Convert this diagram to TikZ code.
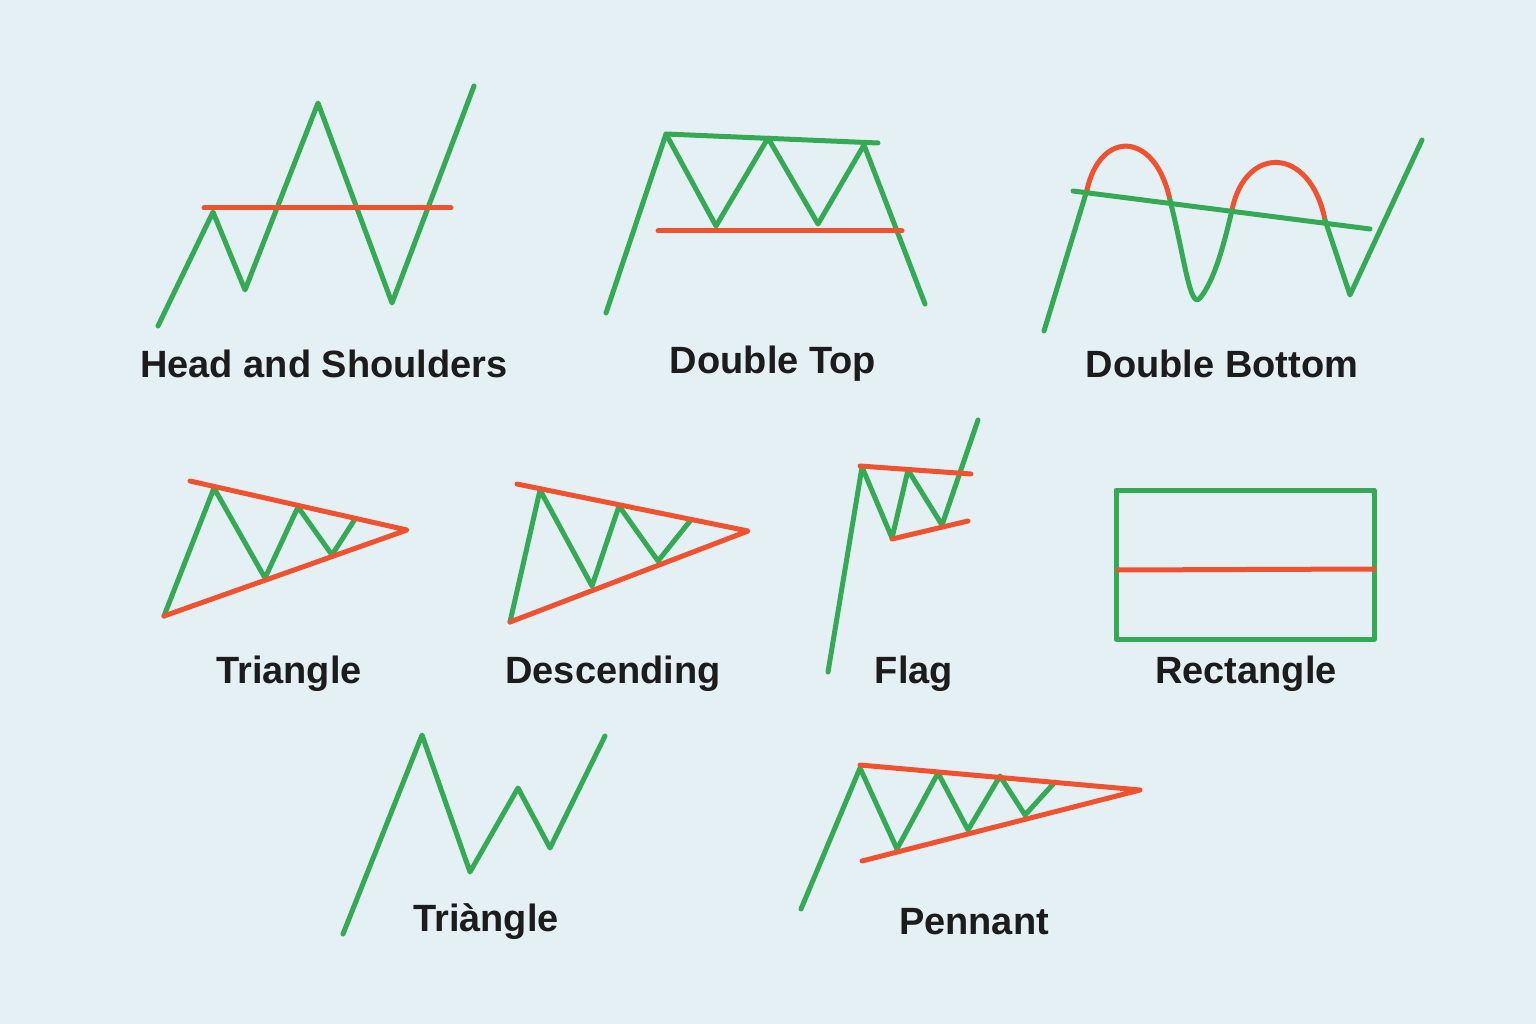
\documentclass[tikz,border=0pt]{standalone}
\usepackage{fontspec}
\setmainfont{Liberation Sans}
\definecolor{bgblue}{RGB}{229,240,245}
\definecolor{chartgreen}{RGB}{52,170,84}
\definecolor{chartred}{RGB}{240,82,48}
\definecolor{labelink}{RGB}{28,28,28}
\usetikzlibrary{positioning}
\tikzset{
  trend/.style={line width=5pt, line cap=round, line join=round, color=chartgreen},
  level/.style={line width=5pt, line cap=round, line join=round, color=chartred},
  caption/.style={font=\fontsize{38}{40}\selectfont\bfseries, text=labelink, inner sep=0pt}
}
\begin{document}
\begin{tikzpicture}[x=1pt,y=-1pt]
			\fill[bgblue] (0,0) rectangle (1536,1024);
			\useasboundingbox (0,0) rectangle (1536,1024);
			% Head and Shoulders
			\draw[trend] (158,326) -- (213,212) -- (245,290) -- (318,103) -- (392,303) -- (474,86);
			\draw[level] (204,208) -- (451,208);
			\node[caption] (hs) at (324,364) {Head and Shoulders};
			% Double Top
			\draw[trend] (606,313) -- (666,134) -- (716,226) -- (768,138) -- (818,224) -- (864,145) -- (925,304);
			\draw[trend] (666,134) -- (878,143);
			\draw[level] (658,231) -- (902,231);
			\node[caption] (dt) at (773,364) {Double Top};
			% Double Bottom
			\draw[trend] (1044,331) -- (1087,190);
			\draw[level] (1087,190) .. controls (1100,130) and (1155,130) .. (1170,200);
			\draw[trend] (1170,200) .. controls (1185,260) and (1190,310) .. (1200,298) .. controls (1215,280) and (1225,240) .. (1232,210);
			\draw[level] (1232,210) .. controls (1245,145) and (1310,145) .. (1325,220);
			\draw[trend] (1325,220) -- (1350,295) -- (1422,140);
			\draw[trend] (1073,191) -- (1370,229);
			\node[caption] (db) at (1222,364) {Double Bottom};
			% Triangle
			\draw[trend] (164,616) -- (214,488) -- (265,578) -- (298,507) -- (332,555) -- (355,519);
			\draw[level] (190,481) -- (407,530) -- (164,616);
			\node[caption] (tri) at (289,674) {Triangle};
			% Descending
			\draw[trend] (510,622) -- (540,490) -- (592,586) -- (619,506) -- (658,561) -- (690,521);
			\draw[level] (517,484) -- (748,531) -- (510,622);
			\node[caption] (desc) at (613,674) {Descending};
			% Flag
			\draw[trend] (828,672) -- (862,467) -- (892,538) -- (908,470) -- (942,525) -- (978,420);
			\draw[level] (860,466) -- (971,474);
			\draw[level] (892,539) -- (968,521);
			\node[caption] (flag) at (914,674) {Flag};
			% Rectangle
			\draw[trend] (1116,490) rectangle (1374,639);
			\draw[level] (1118,570) -- (1374,569);
			\node[caption] (rect) at (1246,674) {Rectangle};
			% Triangle (bottom row)
			\draw[trend] (343,934) -- (422,735) -- (470,872) -- (518,788) -- (550,848) -- (605,736);
			\node[caption] (tri2) at (486,922) {Triàngle};
			% Pennant
			\draw[trend] (801,909) -- (860,768) -- (897,849) -- (938,773) -- (968,830) -- (1000,776) -- (1025,815) -- (1055,782);
			\draw[level] (860,765) -- (1140,790) -- (862,861);
			\node[caption] (pen) at (974,922) {Pennant};
\end{tikzpicture}
\end{document}
